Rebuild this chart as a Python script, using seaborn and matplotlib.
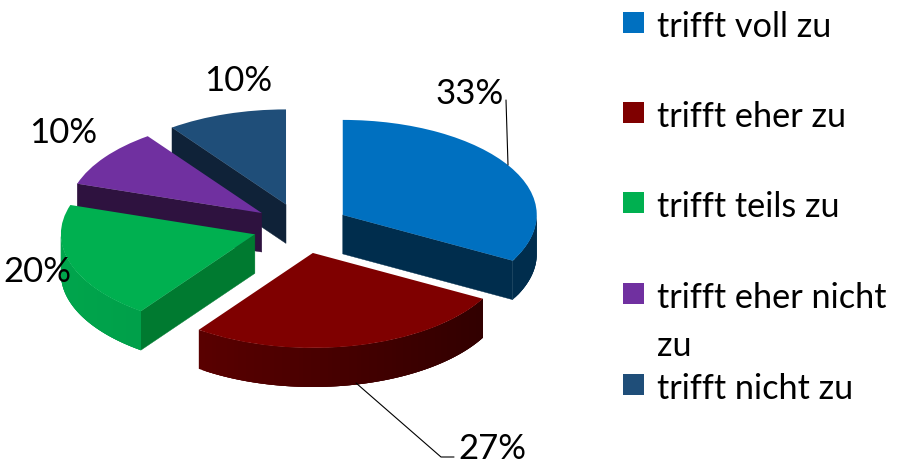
import numpy as np
import seaborn as sns
import matplotlib.pyplot as plt
from matplotlib.patches import Rectangle

sns.set_theme(style="white")
plt.rcParams['font.family'] = ['Lato', 'DejaVu Sans']

# Data
labels = ["trifft voll zu", "trifft eher zu", "trifft teils zu", "trifft eher nicht\nzu", "trifft nicht zu"]
values = [33, 27, 20, 10, 10]
explode = [0.25, 0.28, 0.25, 0.25, 0.25]

# Colours: top face, radial face, outer rim from left to right
top_colors = ["#0070C0", "#7F0000", "#00B050", "#7030A0", "#1F4E79"]
face_colors = ["#002D4D", "#3A0000", "#007A30", "#2E123F", "#0F2238"]
rim_left = ["#002D4D", "#640000", "#00A54C", "#2E123F", "#0F2238"]
rim_right = ["#002D4D", "#2E0000", "#008A40", "#2E123F", "#0F2238"]

W, H = 897, 469
CX, CY = 301, 227     # pie centre in pixels
RX, RY = 194, 95      # pixels per pie radius, gives the tilt
DEPTH = 39 / RY

fig = plt.figure(figsize=(W / 100, H / 100), dpi=100)
ax = fig.add_axes([0, 0, 1, 1])
wedges, _ = ax.pie(values, explode=explode, colors=top_colors, startangle=90,
                   counterclock=False, radius=1)
ax.set_aspect("auto")
ax.set_xlim(-CX / RX, (W - CX) / RX)
ax.set_ylim((CY - H) / RY, CY / RY)
ax.axis("off")


def px(x, y):
    return x / W, 1 - y / H


# back to front
order = [4, 3, 2, 0, 1]
for z, i in enumerate(order):
    w = wedges[i]
    x0, y0 = w.center
    w.set_zorder(3 + z + 0.5)
    w.set_linewidth(0)

    # radial faces that look towards the viewer
    for a, visible in ((w.theta1, np.cos(np.radians(w.theta1)) > 1e-6),
                       (w.theta2, np.cos(np.radians(w.theta2)) < -1e-6)):
        if visible:
            xe = x0 + w.r * np.cos(np.radians(a))
            ye = y0 + w.r * np.sin(np.radians(a))
            ax.fill([x0, xe, xe, x0], [y0, ye, ye - DEPTH, y0 - DEPTH],
                    color=face_colors[i], lw=0.3, zorder=3 + z)

    # outer rim, shaded in thin strips that overlap so no seams show
    a = np.linspace(w.theta1, w.theta2, 80)
    a = a[np.sin(np.radians(a)) < 0.02]
    if len(a) > 1:
        xs = x0 + w.r * np.cos(np.radians(a))
        ys = y0 + w.r * np.sin(np.radians(a))
        shade = sns.blend_palette([rim_left[i], rim_right[i]], 256)
        order_k = np.argsort(xs - x0)
        for k in range(len(a) - 1):
            end = min(k + 4, len(a))
            f = (xs[k] - x0 + 1) / 2
            c = shade[int(np.clip(f, 0, 1) * 255)]
            ax.fill(np.r_[xs[k:end], xs[k:end][::-1]],
                    np.r_[ys[k:end], ys[k:end][::-1] - DEPTH],
                    facecolor=c, edgecolor="none", lw=0, zorder=3 + z + 0.2)

# Percent labels
label_pos = [(470, 94), (492, 449), (37, 272), (63, 133), (238, 81)]
for v, (lx, ly) in zip(values, label_pos):
    tx, ty = px(lx, ly)
    ax.text(tx, ty, f"{v}%", transform=ax.transAxes, ha="center", va="center",
            fontsize=25, color="black", zorder=20)

# Leader lines
for line in ([(506, 100), (508, 165)], [(356, 383), (441, 457), (454, 457)]):
    pts = np.array([px(*p) for p in line])
    ax.plot(pts[:, 0], pts[:, 1], transform=ax.transAxes, color="black", lw=0.8, zorder=15)

# Legend
legend_y = [22, 112, 202, 293, 384]
for c, lab, y in zip(top_colors, labels, legend_y):
    bx, by = px(623, y + 11)
    ax.add_patch(Rectangle((bx, by), 21 / W, 21 / H, transform=ax.transAxes,
                           facecolor=c, edgecolor="none", zorder=10))
    tx, ty = px(657, y - 11)
    ax.text(tx, ty, lab, transform=ax.transAxes, ha="left", va="top",
            fontsize=24.7, color="black", linespacing=1.6)

fig.savefig("out.png", dpi=100)
